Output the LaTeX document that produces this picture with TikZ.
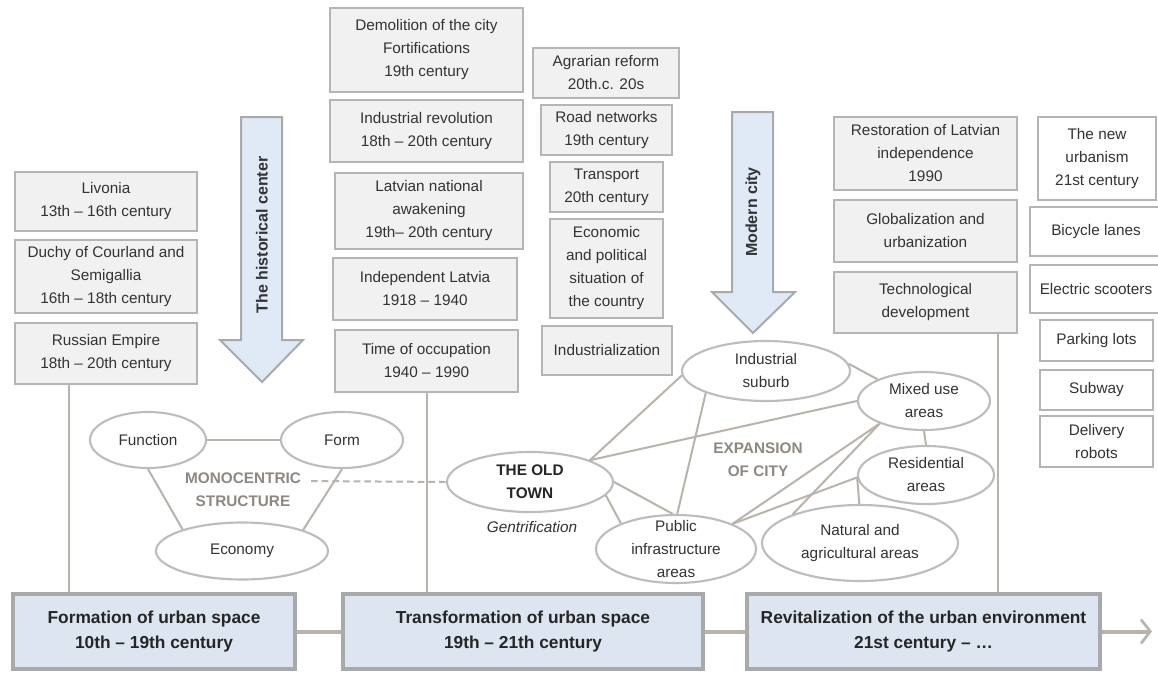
\documentclass[tikz,border=0pt]{standalone}
\usepackage{fontspec}
\setmainfont{Liberation Sans}
\usetikzlibrary{shapes.geometric,arrows.meta}

\definecolor{boxline}{HTML}{B5B5B5}
\definecolor{boxfill}{HTML}{F1F1F1}
\definecolor{stageline}{HTML}{A9A9A9}
\definecolor{stagefill}{HTML}{DDE5F0}
\definecolor{ellline}{HTML}{BDBDBD}
\definecolor{linkline}{HTML}{B9B3AB}
\definecolor{arrowline}{HTML}{AAAAAA}
\definecolor{arrowfill}{HTML}{DFEAF6}
\definecolor{labelbrown}{HTML}{8E8882}
\definecolor{txt}{HTML}{333333}

\tikzset{
  boxsize/.style 2 args={minimum width=#1*0.75pt, minimum height=#2*0.75pt},
  eventbox/.style={draw=boxline, fill=boxfill, line width=2pt, align=center, inner sep=0pt, text=txt, font=\fontsize{11.5}{17.25}\selectfont},
  trendbox/.style={eventbox, fill=white},
  stagebox/.style={draw=stageline, fill=stagefill, line width=3.5pt, align=center, inner sep=0pt, text=black!85, font=\fontsize{13}{18.75}\selectfont\bfseries},
  areanode/.style={ellipse, draw=ellline, fill=white, line width=1.6pt, align=center, inner sep=0pt, text=txt, font=\fontsize{11.5}{17.25}\selectfont},
  link/.style={draw=linkline, line width=1.5pt},
  flowarrow/.style={draw=arrowline, fill=arrowfill, line width=1.5pt, line join=miter},
  arrowlabel/.style={rotate=90, font=\fontsize{12}{14}\selectfont\bfseries, text=txt},
  grouplabel/.style={align=center, font=\fontsize{11.5}{17.25}\selectfont\bfseries, text=labelbrown},
}

\begin{document}
\begin{tikzpicture}[x=0.75pt, y=-0.75pt]
\fill[white] (0,0) rectangle (1158,672);
\useasboundingbox (0,0) rectangle (1158,672);

\node[eventbox, boxsize={182}{59}] (livonia) at (106,201.5) {Livonia\\13th -- 16th century};
\node[eventbox, boxsize={182}{73}] (duchy) at (106,276.5) {Duchy of Courland and\\Semigallia\\16th -- 18th century};
\node[eventbox, boxsize={182}{61}] (russia) at (106,353.5) {Russian Empire\\18th -- 20th century};

\draw[flowarrow] (241,117) -- (282,117) -- (282,340) -- (303,340) -- (262,382) -- (220,340) -- (241,340) -- cycle;
\node[arrowlabel] (histlabel) at (262,235) {The historical center};

\node[eventbox, boxsize={193}{84}] (demolition) at (426.5,50) {Demolition of the city\\Fortifications\\19th century};
\node[eventbox, boxsize={193}{62}] (indrev) at (426.5,131) {Industrial revolution\\18th -- 20th century};
\node[eventbox, boxsize={188}{76}] (awakening) at (429,211) {Latvian national\\awakening\\19th-- 20th century};
\node[eventbox, boxsize={184}{62}] (independent) at (425,289) {Independent Latvia\\1918 -- 1940};
\node[eventbox, boxsize={183}{62}] (occupation) at (426.5,361) {Time of occupation\\1940 -- 1990};

\node[eventbox, boxsize={146}{50}] (agrarian) at (606,73) {Agrarian reform\\20th.c. 20s};
\node[eventbox, boxsize={131}{50}] (roads) at (606.5,130) {Road networks\\19th century};
\node[eventbox, boxsize={113}{50}] (transport) at (606.5,187) {Transport\\20th century};
\node[eventbox, boxsize={113}{99}] (economic) at (606.5,268.5) {Economic\\and political\\situation of\\the country};
\node[eventbox, boxsize={130}{49}] (industrial) at (607,350.5) {Industrialization};

\draw[flowarrow] (732,112) -- (773,112) -- (773,292) -- (795,292) -- (753,333) -- (712,292) -- (732,292) -- cycle;
\node[arrowlabel] (modernlabel) at (753,212) {Modern city};

\node[eventbox, boxsize={183}{73}] (restoration) at (925.5,153.5) {Restoration of Latvian\\independence\\1990};
\node[eventbox, boxsize={183}{62}] (globalization) at (925.5,231) {Globalization and\\urbanization};
\node[eventbox, boxsize={183}{61}] (techno) at (925.5,302.5) {Technological\\development};

\node[trendbox, boxsize={118}{83}] (newurbanism) at (1097,158.5) {The new\\urbanism\\21st century};
\node[trendbox, boxsize={132}{49}] (bicycle) at (1096,231.5) {Bicycle lanes};
\node[trendbox, boxsize={132}{48}] (scooters) at (1096,289) {Electric scooters};
\node[trendbox, boxsize={113}{41}] (parking) at (1096.5,340.5) {Parking lots};
\node[trendbox, boxsize={113}{40}] (subway) at (1096.5,390) {Subway};
\node[trendbox, boxsize={113}{51}] (delivery) at (1096.5,441.5) {Delivery\\robots};

\node[areanode, boxsize={116}{56}] (function) at (148,440) {Function};
\node[areanode, boxsize={122}{56}] (form) at (342,440) {Form};
\node[areanode, boxsize={172}{57}] (economy) at (242,551) {Economy};
\node[grouplabel] (monolabel) at (243,490) {MONOCENTRIC\\STRUCTURE};
\coordinate (monodash) at (311,481);

\node[areanode, boxsize={166}{60}, font=\fontsize{11.5}{17.25}\selectfont\bfseries, text=black!85] (oldtown) at (530,482) {THE OLD\\TOWN};
\node[font=\fontsize{11.5}{14}\selectfont\itshape, text=txt] (gentrification) at (532,527) {Gentrification};
\node[areanode, boxsize={160}{68}, inner ysep=-4pt] (public) at (676,549) {Public\\infrastructure\\areas};
\node[areanode, boxsize={168}{60}] (suburb) at (766,371) {Industrial\\suburb};
\node[areanode, boxsize={132}{58}] (mixed) at (924,401) {Mixed use\\areas};
\node[areanode, boxsize={136}{58}] (residential) at (926,475) {Residential\\areas};
\node[areanode, boxsize={196}{76}] (natural) at (860,543) {Natural and\\agricultural areas};
\node[grouplabel] (expansion) at (758,460) {EXPANSION\\OF CITY};

\node[stagebox, boxsize={282}{75}] (formation) at (154,631.5) {Formation of urban space\\10th -- 19th century};
\node[stagebox, boxsize={360}{75}] (transformation) at (523,631.5) {Transformation of urban space\\19th -- 21th century};
\node[stagebox, boxsize={353}{75}] (revitalization) at (923.5,631.5) {Revitalization of the urban environment\\21st century -- \dots};

\draw[link] (function.east) -- (form.west);
\draw[link] (function.270) -- (economy.160);
\draw[link] (form.270) -- (economy.19);
\draw[link, dashed, dash pattern=on 5pt off 3pt] (monodash) -- (oldtown.west);

\draw[link] (oldtown.20) -- (suburb.183);
\draw[link] (oldtown.20) -- (mixed.180);
\draw[link] (oldtown.0) -- (public.95);
\draw[link] (oldtown.350) -- (public.155);
\draw[link] (suburb.200) -- (public.88);
\draw[link] (suburb.5) -- (mixed.155);
\draw[link] (public.24) -- (mixed.207);
\draw[link] (public.24) -- (residential.182);
\draw[link] (natural.157) -- (mixed.207);
\draw[link] (residential.182) -- (natural.91);
\draw[link] (mixed.270) -- (residential.90);

\draw[link] (russia.south west) ++(55,0) coordinate (histfoot) -- (histfoot |- formation.north);
\draw[link] (occupation.south) -- (occupation.south |- transformation.north);
\draw[link] (techno.south east) ++(-20,0) coordinate (modfoot) -- (modfoot |- revitalization.north);

\draw[link, line width=3pt] (formation.east) -- (transformation.west);
\draw[link, line width=3pt] (transformation.east) -- (revitalization.west);
\coordinate (future) at (1152,631.5);
\draw[link, line width=3pt, -{Straight Barb[length=7pt, width=18pt, line width=2pt]}] (revitalization.east) -- (future);
\end{tikzpicture}
\end{document}
